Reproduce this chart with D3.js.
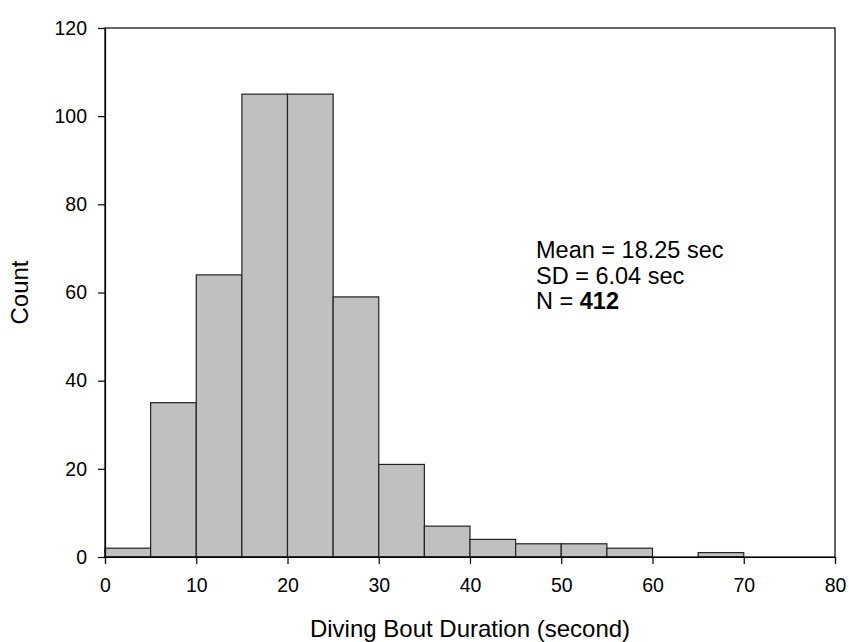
<!DOCTYPE html>
<html>
<head>
<meta charset="utf-8">
<script src="https://cdn.jsdelivr.net/npm/d3@7"></script>
<style>
  body { margin: 0; background: #fff; }
  svg { display: block; }
  text { font-family: "Liberation Sans", Arial, sans-serif; fill: #000; }
</style>
</head>
<body>
<svg id="chart" width="849" height="642"></svg>
<script>
const binStarts = [0, 5, 10, 15, 20, 25, 30, 35, 40, 45, 50, 55, 60, 65, 70, 75];
const binWidth = 5;
const counts = [2, 35, 64, 105, 105, 59, 21, 7, 4, 3, 3, 2, 0, 1, 0, 0];
const xTicks = [0, 10, 20, 30, 40, 50, 60, 70, 80];
const yTicks = [0, 20, 40, 60, 80, 100, 120];
const xTitle = "Diving Bout Duration (second)";
const yTitle = "Count";
const statLabels = ["Mean = ", "SD = ", "N = "];
const statValues = ["18.25 sec", "6.04 sec", "412"];

const svg = d3.select("#chart");
const W = 849, H = 642;
const m = { left: 105, right: 14, top: 28, bottom: 85 };
const x = d3.scaleLinear().domain([0, 80]).range([m.left, W - m.right]);
const y = d3.scaleLinear().domain([0, 120]).range([H - m.bottom, m.top]);

const bins = binStarts.map((s, i) => ({ x0: s, x1: s + binWidth, n: counts[i] })).filter(d => d.n > 0);

svg.append("g").selectAll("rect").data(bins).join("rect")
  .attr("x", d => x(d.x0))
  .attr("y", d => y(d.n))
  .attr("width", d => x(d.x1) - x(d.x0))
  .attr("height", d => y(0) - y(d.n))
  .attr("fill", "#c0c0c0")
  .attr("stroke", "#222")
  .attr("stroke-width", 1.2);

// frame
svg.append("rect")
  .attr("x", m.left).attr("y", m.top)
  .attr("width", W - m.left - m.right).attr("height", H - m.top - m.bottom)
  .attr("fill", "none").attr("stroke", "#000").attr("stroke-width", 1.2);

const xAxis = svg.append("g").attr("transform", `translate(0,${H - m.bottom})`)
  .call(d3.axisBottom(x).tickValues(xTicks).tickSize(7).tickPadding(14).tickFormat(d3.format("d")));
const yAxis = svg.append("g").attr("transform", `translate(${m.left},0)`)
  .call(d3.axisLeft(y).tickValues(yTicks).tickSize(7).tickPadding(11).tickFormat(d3.format("d")));
[xAxis, yAxis].forEach(g => {
  g.select(".domain").attr("stroke", "#000").attr("stroke-width", 1.2);
  g.selectAll(".tick line").attr("stroke", "#000").attr("stroke-width", 1.2);
  g.selectAll(".tick text").style("font-size", "19.5px").attr("fill", "#000");
});

svg.append("text")
  .attr("x", (x(0) + x(80)) / 2).attr("y", 637)
  .attr("text-anchor", "middle").style("font-size", "24px")
  .text(xTitle);

svg.append("text")
  .attr("transform", `translate(28,${(y(0) + y(120)) / 2}) rotate(-90)`)
  .attr("text-anchor", "middle").style("font-size", "24px")
  .text(yTitle);

const stats = svg.append("g").style("font-size", "23.5px");
statLabels.forEach((lab, i) => {
  const t = stats.append("text").attr("x", 536).attr("y", 258 + i * 25.5);
  t.append("tspan").text(lab);
  t.append("tspan").style("font-weight", i === 2 ? "bold" : "normal").text(statValues[i]);
});
</script>
</body>
</html>
